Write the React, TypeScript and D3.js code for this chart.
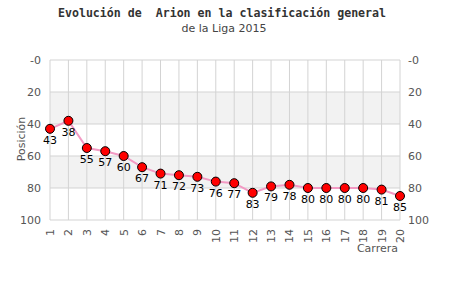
import React from "react";
import * as d3 from "d3";

const races = ["1","2","3","4","5","6","7","8","9","10","11","12","13","14","15","16","17","18","19","20"];
const positions = [43,38,55,57,60,67,71,72,73,76,77,83,79,78,80,80,80,80,81,85];
const yTicks = [0,20,40,60,80,100];
const bands = [[20,40],[60,80]];

export default function App() {
  const W = 450, H = 300;
  const L = 50, R = 400, T = 60, B = 220;
  const x = d3.scalePoint<string>().domain(races).range([L, R]);
  const y = d3.scaleLinear().domain([0, 100]).range([T, B]);
  const line = d3.line<number>().x((_, i) => x(races[i])!).y(d => y(d));
  const grid = "#d3d3d3";
  const axisText = "#555";
  return (
    <svg width={W} height={H} style={{ position: "absolute", left: 0, top: 0 }}>
      <rect x={0} y={0} width={W} height={H} fill="#fff" />
      {bands.map(([a, b], i) => (
        <rect key={i} x={L} y={y(a)} width={R - L} height={y(b) - y(a)} fill="#f2f2f2" />
      ))}
      {yTicks.map(t => (
        <line key={t} x1={L} x2={R} y1={y(t)} y2={y(t)} stroke={grid} strokeWidth={1} />
      ))}
      {races.map(r => (
        <line key={r} x1={x(r)} x2={x(r)} y1={T} y2={B} stroke={grid} strokeWidth={1} />
      ))}
      {yTicks.map(t => (
        <g key={"l" + t} fontFamily="DejaVu Sans, sans-serif" fontSize={11} fill={axisText}>
          <text x={41} y={y(t) + 4} textAnchor="end">{t === 0 ? "-0" : t}</text>
          <text x={408} y={y(t) + 4} textAnchor="start">{t === 0 ? "-0" : t}</text>
        </g>
      ))}
      {races.map(r => (
        <text key={"x" + r} transform={`translate(${x(r)! + 4},229) rotate(-90)`} textAnchor="end"
          fontFamily="DejaVu Sans, sans-serif" fontSize={11} fill={axisText}>{r}</text>
      ))}
      <path d={line(positions)!} fill="none" stroke="#f39ac4" strokeWidth={2} />
      {positions.map((p, i) => (
        <circle key={i} cx={x(races[i])} cy={y(p)} r={4.5} fill="#ff0000" stroke="#000" strokeWidth={1} />
      ))}
      {positions.map((p, i) => (
        <text key={"v" + i} x={x(races[i])} y={y(p) + 15} textAnchor="middle"
          fontFamily="DejaVu Sans, sans-serif" fontSize={11} fill="#000">{p}</text>
      ))}
      <text x={398} y={252} textAnchor="end" fontFamily="DejaVu Sans, sans-serif" fontSize={11} fill={axisText}>Carrera</text>
      <text transform="translate(25,139) rotate(-90)" textAnchor="middle" fontFamily="DejaVu Sans, sans-serif" fontSize={11} fill={axisText}>Posición</text>
      <text x={222} y={17} textAnchor="middle" fontFamily="DejaVu Sans Mono, monospace" fontWeight="bold" fontSize={11.6} fill="#333" style={{ whiteSpace: "pre" }}>{"Evolución de  Arion en la clasificación general"}</text>
      <text x={224} y={32} textAnchor="middle" fontFamily="DejaVu Sans, sans-serif" fontSize={11} fill="#444">de la Liga 2015</text>
    </svg>
  );
}
